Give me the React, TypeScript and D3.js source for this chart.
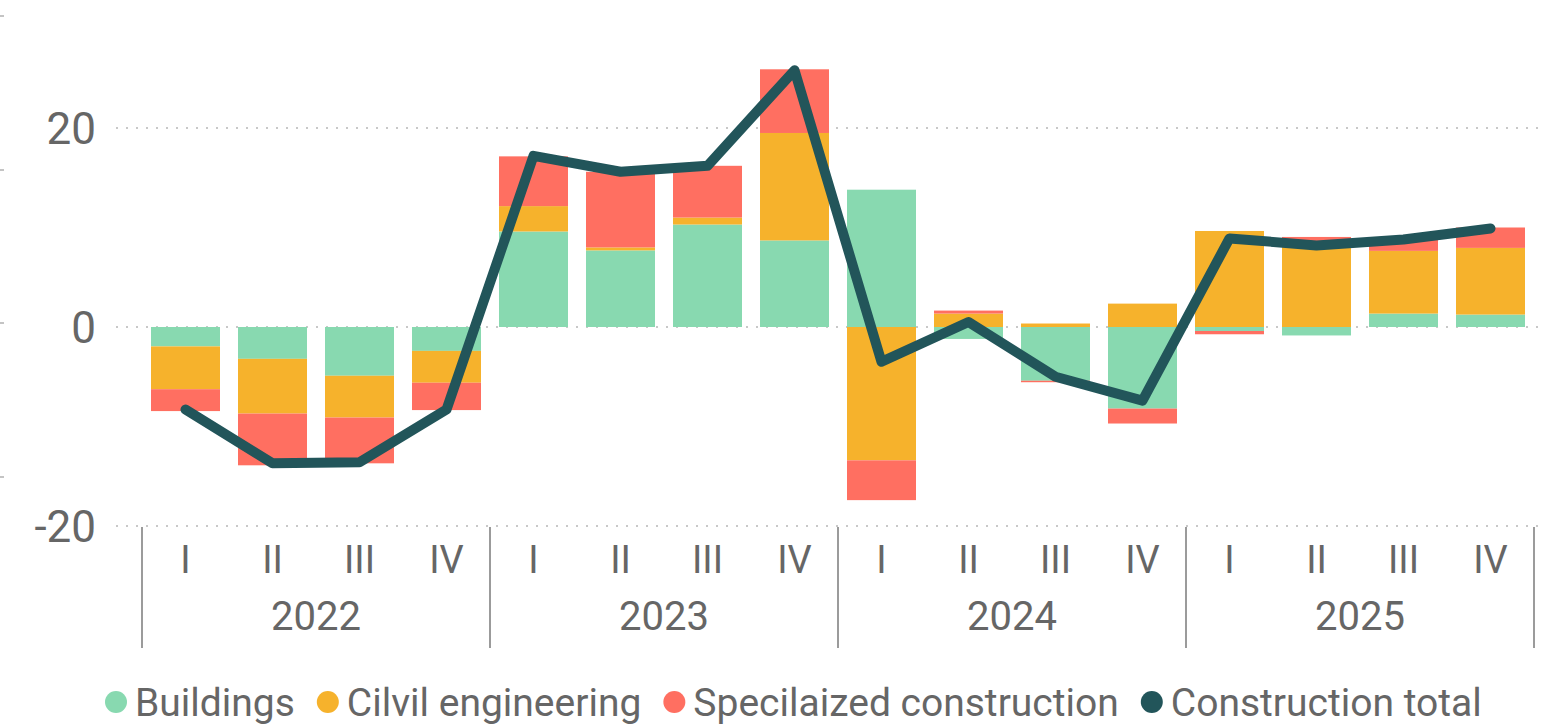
import { useEffect, useRef } from "react";
import * as d3 from "d3";

// quarterly contributions to construction growth, % points
const YEARS = ["2022", "2023", "2024", "2025"];
const QUARTERS = ["I", "II", "III", "IV"];

const BUILDINGS = [-1.95, -3.2, -4.9, -2.4, 9.6, 7.7, 10.3, 8.7, 13.8, -1.2, -5.4, -8.2, -0.4, -0.85, 1.35, 1.25];
const CIVIL = [-4.3, -5.5, -4.2, -3.2, 2.55, 0.3, 0.7, 10.8, -13.4, 1.35, 0.35, 2.35, 9.65, 8.45, 6.3, 6.7];
const SPECIALIZED = [-2.2, -5.2, -4.6, -2.75, 5.0, 7.6, 5.2, 6.4, -4.0, 0.3, -0.15, -1.5, -0.33, 0.6, 1.15, 2.05];
const TOTAL = [-8.3, -13.7, -13.6, -8.3, 17.2, 15.6, 16.2, 25.8, -3.5, 0.5, -5.0, -7.4, 8.9, 8.2, 8.8, 9.9];

const SERIES = ["Buildings", "Cilvil engineering", "Specilaized construction"];
const LEGEND = [...SERIES, "Construction total"];
const COLORS = ["#88D9B0", "#F6B22C", "#FF6F61", "#22555A"];
const Y_TICKS = [-20, 0, 20];

const W = 1546;
const H = 725;
const FONT = "Roboto, 'Segoe UI', sans-serif";
const TEXT = "#666666";

export default function App() {
  const svgRef = useRef<SVGSVGElement | null>(null);

  useEffect(() => {
    const svg = d3.select(svgRef.current);
    svg.selectAll("*").remove();

    const keys = YEARS.flatMap((y) => QUARTERS.map((q) => `${y}-${q}`));
    const rows = keys.map((k, i) => ({
      key: k,
      [SERIES[0]]: BUILDINGS[i],
      [SERIES[1]]: CIVIL[i],
      [SERIES[2]]: SPECIALIZED[i],
    }));

    const x = d3.scaleBand<string>()
      .domain(keys)
      .range([142, 1534])
      .paddingInner(0.207)
      .paddingOuter(0.1035);
    const y = d3.scaleLinear().domain([-20, 20]).range([526, 128]);

    // stray tick marks of a neighbouring visual at the left edge
    const edge = svg.append("g");
    [16, 170, 323, 477].forEach((py) => {
      edge.append("line")
        .attr("x1", 0).attr("x2", 4).attr("y1", py).attr("y2", py)
        .attr("stroke", "#c4c4c4").attr("stroke-width", 2);
    });

    // ----- gridlines + y labels -----
    const grid = svg.append("g");
    Y_TICKS.forEach((t) => {
      grid.append("line")
        .attr("x1", 116).attr("x2", W)
        .attr("y1", y(t)).attr("y2", y(t))
        .attr("stroke", "#c8c8c8")
        .attr("stroke-width", 2)
        .attr("stroke-dasharray", "2,8");
      grid.append("text")
        .attr("x", 96).attr("y", y(t) + 16)
        .attr("text-anchor", "end")
        .attr("font-family", FONT).attr("font-size", 44)
        .attr("fill", TEXT)
        .text(t);
    });

    // ----- stacked bars -----
    const stacked = d3.stack<any>()
      .keys(SERIES)
      .offset(d3.stackOffsetDiverging)(rows);

    stacked.forEach((s, si) => {
      svg.append("g")
        .attr("fill", COLORS[si])
        .selectAll("rect")
        .data(s)
        .enter()
        .append("rect")
        .attr("x", (d: any) => x(d.data.key)!)
        .attr("width", x.bandwidth())
        .attr("y", (d) => y(Math.max(d[0], d[1])))
        .attr("height", (d) => Math.abs(y(d[0]) - y(d[1])));
    });

    // ----- total line -----
    const line = d3.line<number>()
      .x((_, i) => x(keys[i])! + x.bandwidth() / 2)
      .y((d) => y(d));
    svg.append("path")
      .attr("d", line(TOTAL))
      .attr("fill", "none")
      .attr("stroke", COLORS[3])
      .attr("stroke-width", 10)
      .attr("stroke-linecap", "round")
      .attr("stroke-linejoin", "round");

    // ----- hierarchical x axis -----
    const axis = svg.append("g");
    keys.forEach((k, i) => {
      axis.append("text")
        .attr("x", x(k)! + x.bandwidth() / 2)
        .attr("y", 573)
        .attr("text-anchor", "middle")
        .attr("font-family", FONT).attr("font-size", 38)
        .attr("fill", TEXT)
        .text(QUARTERS[i % 4]);
    });
    const step = x.step();
    const x0 = x.range()[0];
    YEARS.forEach((yr, i) => {
      axis.append("text")
        .attr("x", x0 + step * 4 * (i + 0.5))
        .attr("y", 630)
        .attr("text-anchor", "middle")
        .attr("font-family", FONT).attr("font-size", 40)
        .attr("fill", TEXT)
        .text(yr);
    });
    d3.range(YEARS.length + 1).forEach((i) => {
      axis.append("line")
        .attr("x1", x0 + step * 4 * i).attr("x2", x0 + step * 4 * i)
        .attr("y1", 527).attr("y2", 648)
        .attr("stroke", "#7a7a7a").attr("stroke-width", 1.5);
    });

    // ----- legend -----
    const legend = svg.append("g").attr("transform", "translate(105, 702)");
    let cx = 0;
    LEGEND.forEach((name, i) => {
      legend.append("circle")
        .attr("cx", cx + 11).attr("cy", 0).attr("r", 11)
        .attr("fill", COLORS[i]);
      const t = legend.append("text")
        .attr("x", cx + 30).attr("y", 14)
        .attr("font-family", FONT).attr("font-size", 39)
        .attr("fill", TEXT)
        .text(name);
      const w = (t.node() as SVGTextElement).getComputedTextLength();
      cx += 30 + w + 22;
    });
  }, []);

  return (
    <div style={{ position: "fixed", left: 0, top: 0, width: W, height: H, background: "#fff" }}>
      <svg ref={svgRef} width={W} height={H}></svg>
    </div>
  );
}
